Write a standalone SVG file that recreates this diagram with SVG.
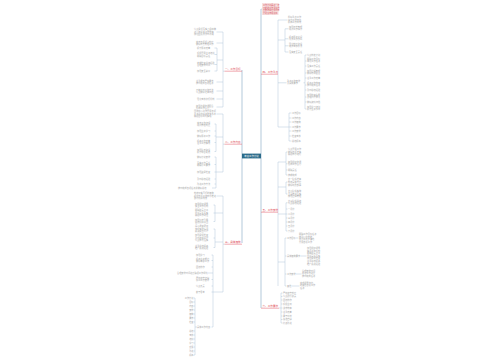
<svg xmlns="http://www.w3.org/2000/svg" width="500" height="360" viewBox="0 0 500 360">
<style>
text{font-family:"Noto Sans CJK SC","Noto Sans",sans-serif}
.t{font-size:2.2px;fill:#a8a8a8}
.b{font-size:2.6px;fill:#e0505c}
.c{stroke:#b0c7d8;stroke-width:0.5;fill:none}
.m{stroke:#93b3ca;stroke-width:0.7;fill:none}
.u{stroke:#e87480;stroke-width:0.6;fill:none}
</style>
<rect width="500" height="360" fill="#fff"/>
<g id="connectors">
<path class="m" d="M242,70V243M261,9V308"/>
<path class="c" d="M223,32V107M216.5,32H223M216.5,43H223M217,60H223M217,48V71M214.5,48H217M214.5,54.5H217M214.5,64.5H217M214.5,71H217M216.5,82H223M216.5,91H223M216.5,99H223M216.5,107H223M223,71.2H224.5"/>
<path class="c" d="M223,114V172M216.5,114H223M216,137H223M216,124V151.5M214.5,124H216M214.5,131H216M214.5,136H216M214.5,142.5H216M214.5,151.5H216M216,172H223M216,157V188M214.5,157H216M214.5,164.5H216M214.5,172H216M214.5,179H216M214.5,184H216M212,188H216M223,144.2H224.5"/>
<path class="c" d="M223,196V292M216.5,196H223M215,213H223M215,205V221.5M213.5,205H215M213.5,213H215M213.5,221.5H215M215,242H223M215,229V247.5M213.5,229H215M213.5,238H215M213.5,247.5H215M213,292H223M213,255V327M211.5,255H213M211.5,260.5H213M211.5,267H213M208,273H213M211.5,279.5H213M211.5,286H213M211.5,292H213M211.5,327H213M223,244.2H224.5"/>
<path class="c" d="M195,298V355M195,327H197M193.8,298H195M193.8,302H195M193.8,306H195M193.8,310H195M193.8,314H195M193.8,318H195M193.8,322H195M193.8,331H195M193.8,335H195M193.8,339H195M193.8,343H195M193.8,347H195M193.8,351H195M193.8,355H195"/>
<path class="c" d="M261,9H262M278,20V127M278,20H287.5M278,40H285M285,28.8V52M285,28.8H288.5M285,38.8H288.5M285,45.8H288.5M285,52H288.5M278,82.8H286.5M303.5,82.8H305M305,55V109M305,55H306.5M305,61H306.5M305,66H306.5M305,73H306.5M305,78H306.5M305,85H306.5M305,90H306.5M305,97H306.5M305,102H306.5M305,109H306.5M278,127H289M289,113V141M289,113H291.5M289,118H291.5M289,122H291.5M289,127H291.5M289,131H291.5M289,136H291.5M289,141H291.5"/>
<path class="c" d="M278,162V286M278,162H286M286,152V175M286,152H287.5M286,163.8H287.5M286,170H287.5M286,175H287.5M278,187H286M286,182V194M286,182H287.5M286,194H287.5M278,214H286M286,202.8V231M286,202.8H287.5M286,209H287.5M286,214H287.5M286,218H287.5M286,222H287.5M286,226H287.5M286,231H287.5M278,262H285M285,238V286M285,238H286.5M285,256H286.5M285,274H286.5M285,286H286.5M296,238H298.5M300.5,256H306.5M296,274H301.5M292,286H299.5"/>
<path class="c" d="M279,308H281M281,293V323M281,293H282.5M281,296.5H282.5M281,300H282.5M281,304H282.5M281,308H282.5M281,312H282.5M281,316H282.5M281,319.5H282.5M281,323H282.5"/>
</g>
<g id="center"><rect x="242" y="153.6" width="19" height="4.8" fill="#2b6b8a"/><text x="251.5" y="156.9" font-size="2.4" fill="#fff" text-anchor="middle">年度工作计划</text></g>
<g id="b-l1"><text class="b" x="225" y="70.2">一、工作目标</text><path class="u" d="M224.5,71.2H242"/></g>
<g id="b-l2"><text class="b" x="225" y="143.2">二、工作内容</text><path class="u" d="M224.5,144.2H242"/></g>
<g id="b-l3"><text class="b" x="225" y="243.2">三、具体措施</text><path class="u" d="M224.5,244.2H242"/></g>
<g id="b-r1"><rect x="262" y="3" width="16.5" height="12" fill="#f8e0e0"/><text class="t" style="fill:#d45560;font-size:2.1px"><tspan x="263" y="6">工作计划是对一定</tspan><tspan x="263" y="8.7">时期的工作预先作</tspan><tspan x="263" y="11.4">出安排和打算时有</tspan><tspan x="263" y="14.1">计划又有规划等</tspan></text></g>
<g id="b-r2"><text class="b" x="262.5" y="73.2">四、工作重点</text><path class="u" d="M261,74.2H278"/></g>
<g id="b-r3"><text class="b" x="262.5" y="211.2">五、工作安排</text><path class="u" d="M261,212.2H278"/></g>
<g id="b-r4"><text class="b" x="262.5" y="307.2">六、工作要求</text><path class="u" d="M261,308.2H279"/></g>
<g id="l1-nodes">
<text class="t"><tspan x="194" y="30.2">认真贯彻落实上级精神</tspan><tspan x="194" y="32.8">进一步提高工作效率</tspan><tspan x="194" y="35.4">加强团队协作与沟通</tspan></text>
<text class="t"><tspan x="196" y="42.5">完善各项规章制度</tspan><tspan x="196" y="45.1">做好日常管理工作</tspan></text>
<text class="t"><tspan x="197" y="48.8">提升服务质量</tspan><tspan x="197" y="54">积极开展业务培训</tspan><tspan x="197" y="56.6">明确目标责任</tspan><tspan x="197" y="63.5">定期检查总结经验</tspan><tspan x="197" y="66.1">合理安排时间</tspan><tspan x="197" y="71.8">加强安全教育</tspan></text>
<text class="t"><tspan x="196" y="81.5">注重细节严格要求</tspan><tspan x="196" y="84.1">按时完成各项任务</tspan></text>
<text class="t"><tspan x="196" y="90.5">不断创新工作方法</tspan><tspan x="196" y="93.1">认真做好记录归档</tspan></text>
<text class="t"><tspan x="197" y="99.8">强化考核奖惩机制</tspan></text>
<text class="t"><tspan x="196" y="106.5">加强沟通协调配合</tspan><tspan x="196" y="109.1">形成工作合力</tspan></text>
</g>
<g id="l2-nodes">
<text class="t"><tspan x="194" y="112.2">围绕中心工作开展各项</tspan><tspan x="194" y="114.8">业务活动提高整体水平</tspan><tspan x="194" y="117.4">确保目标顺利实现</tspan></text>
<text class="t"><tspan x="197" y="123.5">完善工作流程</tspan><tspan x="197" y="126.1">规范管理制度</tspan><tspan x="197" y="131.8">加强业务学习</tspan><tspan x="197" y="136.8">做好服务工作</tspan><tspan x="197" y="141.5">提高工作质量</tspan><tspan x="197" y="144.1">注重工作实效</tspan><tspan x="197" y="150.5">加强队伍建设</tspan><tspan x="197" y="153.1">提升综合素质</tspan></text>
<text class="t"><tspan x="197" y="157.8">做好计划安排</tspan><tspan x="197" y="163.5">落实工作责任</tspan><tspan x="197" y="166.1">明确分工要求</tspan><tspan x="197" y="172.8">加强监督检查</tspan><tspan x="197" y="179.8">及时总结经验</tspan><tspan x="197" y="184.8">改进工作方法</tspan></text>
<text class="t"><tspan x="178" y="188.8">按时完成各项任务并做好总结</tspan></text>
</g>
<g id="l3-nodes">
<text class="t"><tspan x="194" y="194.2">制定切实可行的措施</tspan><tspan x="194" y="196.8">保证各项工作有序推进</tspan><tspan x="194" y="199.4">取得良好效果</tspan></text>
<text class="t"><tspan x="195" y="204.5">加强组织领导</tspan><tspan x="195" y="207.1">健全工作机制</tspan><tspan x="195" y="211.2">明确职责分工</tspan><tspan x="195" y="213.8">强化责任落实</tspan><tspan x="195" y="216.4">确保工作到位</tspan><tspan x="195" y="220.5">加强宣传引导</tspan><tspan x="195" y="223.1">营造良好氛围</tspan></text>
<text class="t"><tspan x="195" y="227.2">深入调查研究</tspan><tspan x="195" y="229.8">掌握实际情况</tspan><tspan x="195" y="232.4">解决突出问题</tspan><tspan x="195" y="236.2">加强督促检查</tspan><tspan x="195" y="238.8">及时发现问题</tspan><tspan x="195" y="241.4">认真整改落实</tspan><tspan x="195" y="246.5">注重总结提高</tspan><tspan x="195" y="249.1">推广先进经验</tspan></text>
<text class="t"><tspan x="196" y="255.8">加强学习</tspan><tspan x="196" y="259.5">提高业务能力</tspan><tspan x="196" y="262.1">做好本职工作</tspan><tspan x="196" y="267.8">团结协作</tspan><tspan x="177" y="273.8">合理安排时间进度确保工作顺利</tspan><tspan x="196" y="278.5">严格遵守纪律</tspan><tspan x="196" y="281.1">服从工作安排</tspan><tspan x="196" y="286.8">认真负责</tspan><tspan x="196" y="292.8">勤于思考</tspan><tspan x="197" y="327.8">具体工作内容</tspan></text>
<text class="t" text-anchor="end"><tspan x="193.5" y="298.8">工作计划</tspan><tspan x="193.5" y="302.8">目标</tspan><tspan x="193.5" y="306.8">内容</tspan><tspan x="193.5" y="310.8">安排</tspan><tspan x="193.5" y="314.8">措施</tspan><tspan x="193.5" y="318.8">要求</tspan><tspan x="193.5" y="322.8">检查</tspan><tspan x="193.5" y="331.8">总结</tspan><tspan x="193.5" y="335.8">考核</tspan><tspan x="193.5" y="339.8">培训</tspan><tspan x="193.5" y="343.8">学习</tspan><tspan x="193.5" y="347.8">反馈</tspan><tspan x="193.5" y="351.8">改进</tspan><tspan x="193.5" y="355.8">提高</tspan></text>
</g>
<g id="r2-nodes">
<text class="t"><tspan x="288" y="18.2">抓好重点工作</tspan><tspan x="288" y="20.8">突出工作特色</tspan><tspan x="288" y="23.4">提高工作成效</tspan></text>
<text class="t"><tspan x="289" y="27.5">加强日常管理</tspan><tspan x="289" y="30.1">规范工作程序</tspan><tspan x="289" y="37.5">提高服务意识</tspan><tspan x="289" y="40.1">改善工作作风</tspan><tspan x="289" y="44.5">强化制度建设</tspan><tspan x="289" y="47.1">完善考核办法</tspan><tspan x="289" y="52.8">落实安全责任</tspan></text>
<text class="t"><tspan x="287" y="81.5">重点工作安排</tspan><tspan x="287" y="84.1">及具体要求</tspan></text>
<text class="t"><tspan x="307" y="55.8">认真制定计划</tspan><tspan x="307" y="59.5">明确工作目标</tspan><tspan x="307" y="62.1">细化工作任务</tspan><tspan x="307" y="66.8">落实工作责任</tspan><tspan x="307" y="71.5">加强过程管理</tspan><tspan x="307" y="74.1">做好协调配合</tspan><tspan x="307" y="78.8">注重工作质量</tspan><tspan x="307" y="83.5">提高工作效率</tspan><tspan x="307" y="86.1">按时完成任务</tspan><tspan x="307" y="90.8">及时总结经验</tspan><tspan x="307" y="95.5">加强检查指导</tspan><tspan x="307" y="98.1">发现问题整改</tspan><tspan x="307" y="102.8">做好资料归档</tspan><tspan x="307" y="107.5">加强学习培训</tspan><tspan x="307" y="110.1">提升业务水平</tspan></text>
<text class="t"><tspan x="292" y="113.8">工作目标</tspan><tspan x="292" y="118.8">工作内容</tspan><tspan x="292" y="122.8">工作措施</tspan><tspan x="292" y="127.8">工作要求</tspan><tspan x="292" y="131.8">工作安排</tspan><tspan x="292" y="136.8">检查考核</tspan><tspan x="292" y="141.8">总结提高</tspan></text>
</g>
<g id="r3-nodes">
<text class="t"><tspan x="288" y="150.2">认真开展工作</tspan><tspan x="288" y="152.8">做好各项准备</tspan><tspan x="288" y="155.4">确保有序进行</tspan><tspan x="288" y="162.5">加强组织协调</tspan><tspan x="288" y="165.1">形成工作合力</tspan><tspan x="288" y="170.8">明确责任</tspan><tspan x="288" y="175.8">按期完成</tspan></text>
<text class="t"><tspan x="288" y="180.4">第一阶段准备</tspan><tspan x="288" y="183">制定具体方案</tspan><tspan x="288" y="185.6">做好动员部署</tspan><tspan x="288" y="192.2">第二阶段实施</tspan><tspan x="288" y="194.8">全面推进落实</tspan><tspan x="288" y="197.4">加强过程管理</tspan></text>
<text class="t"><tspan x="288" y="201.5">第三阶段总结</tspan><tspan x="288" y="204.1">认真总结经验</tspan><tspan x="288" y="209.8">一月份</tspan><tspan x="288" y="214.8">二月份</tspan><tspan x="288" y="218.8">三月份</tspan><tspan x="288" y="222.8">四月份</tspan><tspan x="288" y="226.8">五月份</tspan><tspan x="288" y="231.8">六月份</tspan></text>
<text class="t"><tspan x="287" y="238.8">工作目标</tspan><tspan x="287" y="256.8">具体措施要求</tspan><tspan x="287" y="274.8">工作安排</tspan><tspan x="287" y="286.8">其他</tspan></text>
<text class="t"><tspan x="299" y="234.9">明确工作目标任务</tspan><tspan x="299" y="237.5">做到心中有数</tspan><tspan x="299" y="240.1">有计划有步骤地</tspan><tspan x="299" y="242.7">开展各项工作</tspan></text>
<text class="t"><tspan x="307" y="249">加强组织领导</tspan><tspan x="307" y="251.6">健全工作机制</tspan><tspan x="307" y="254.2">明确职责分工</tspan><tspan x="307" y="256.8">强化责任落实</tspan><tspan x="307" y="259.4">加强督促检查</tspan><tspan x="307" y="262">注重总结提高</tspan><tspan x="307" y="264.6">推广先进经验</tspan></text>
<text class="t"><tspan x="302" y="271.5">合理安排时间</tspan><tspan x="302" y="274.1">保证工作进度</tspan><tspan x="302" y="276.7">按时完成任务</tspan></text>
<text class="t"><tspan x="300" y="283.5">完成领导交办</tspan><tspan x="300" y="286.1">的其他各项工作</tspan><tspan x="300" y="288.7">任务</tspan></text>
</g>
<g id="r4-nodes">
<text class="t"><tspan x="283" y="293.8">严格遵守制度</tspan><tspan x="283" y="297.3">认真履行职责</tspan><tspan x="283" y="300.8">团结协作</tspan><tspan x="283" y="304.8">积极主动</tspan><tspan x="283" y="308.8">讲求效率</tspan><tspan x="283" y="312.8">注重质量</tspan><tspan x="283" y="316.8">勇于创新</tspan><tspan x="283" y="320.3">廉洁自律</tspan><tspan x="283" y="323.8">持续改进</tspan></text>
</g>
</svg>
